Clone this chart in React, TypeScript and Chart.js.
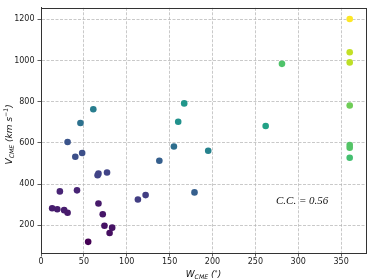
import React, { useEffect, useRef } from "react";
import { Chart, registerables } from "chart.js";

Chart.register(...registerables);

const widths = [13, 19, 22, 27, 31, 31, 40, 42, 46, 48, 55, 61, 66, 67, 67, 72, 74, 77, 80, 83, 113, 122, 138, 155, 160, 167, 179, 195, 262, 281, 360, 360, 360, 360, 360, 360, 360];
const speeds = [283, 278, 365, 274, 261, 605, 533, 370, 697, 551, 120, 764, 443, 451, 306, 254, 198, 457, 163, 189, 326, 347, 514, 583, 703, 792, 360, 562, 682, 984, 1202, 1040, 991, 782, 590, 577, 528];
const colorValues = [0.08, 0.08, 0.1, 0.08, 0.07, 0.26, 0.24, 0.1, 0.37, 0.24, 0.0, 0.42, 0.2, 0.2, 0.07, 0.06, 0.05, 0.2, 0.04, 0.05, 0.18, 0.18, 0.3, 0.36, 0.5, 0.52, 0.3, 0.44, 0.57, 0.72, 1.0, 0.91, 0.9, 0.78, 0.73, 0.73, 0.7];
const xTicks = [0, 50, 100, 150, 200, 250, 300, 350];
const yTicks = [200, 400, 600, 800, 1000, 1200];
const ccText = "C.C. = 0.56";

const viridis = ["#440154", "#482475", "#414487", "#355f8d", "#2a788e", "#21918c", "#22a884", "#44bf70", "#7ad151", "#bddf26", "#fde725"];

function hex(h: string) {
  return [parseInt(h.slice(1, 3), 16), parseInt(h.slice(3, 5), 16), parseInt(h.slice(5, 7), 16)];
}
function cmap(v: number) {
  const t = Math.max(0, Math.min(1, v)) * 10;
  const i = Math.min(9, Math.floor(t));
  const f = t - i;
  const a = hex(viridis[i]);
  const b = hex(viridis[i + 1]);
  const c = a.map((x, k) => Math.round(x + (b[k] - x) * f));
  return `rgb(${c[0]},${c[1]},${c[2]})`;
}

const annot = {
  id: "annot",
  afterDraw(chart: any) {
    const ctx = chart.ctx;
    const a = chart.chartArea;
    ctx.save();
    ctx.strokeStyle = "#333";
    ctx.lineWidth = 1;
    ctx.setLineDash([]);
    ctx.strokeRect(Math.round(a.left) + 0.5, Math.round(a.top) + 0.5, Math.round(a.right - a.left), Math.round(a.bottom - a.top));
    ctx.fillStyle = "#111";
    const fam = "'DejaVu Sans', sans-serif";
    const measure = (parts: [string, number, number][]) => {
      let w = 0;
      for (const [t, s] of parts) {
        ctx.font = `oblique ${s}px ${fam}`;
        w += ctx.measureText(t).width;
      }
      return w;
    };
    const xParts: [string, number, number][] = [["W", 9, 0], ["CME", 6.2, 2], [" (", 9, 0], ["°", 6.5, -2.5], [")", 9, 0]];
    const xw = measure(xParts);
    let x = (a.left + a.right) / 2 - xw / 2;
    const yb = 277;
    ctx.textBaseline = "alphabetic";
    ctx.textAlign = "left";
    for (const [t, s, dy] of xParts) {
      ctx.font = `oblique ${s}px ${fam}`;
      ctx.fillText(t, x, yb + dy);
      x += ctx.measureText(t).width;
    }
    const yParts: [string, number, number][] = [["V", 9, 0], ["CME", 6.2, 2], [" (km s", 9, 0], ["−1", 6.2, -4], [")", 9, 0]];
    const yw = measure(yParts);
    ctx.translate(12, (a.top + a.bottom) / 2 + 4);
    ctx.rotate(-Math.PI / 2);
    x = -yw / 2;
    for (const [t, s, dy] of yParts) {
      ctx.font = `oblique ${s}px ${fam}`;
      ctx.fillText(t, x, dy);
      x += ctx.measureText(t).width;
    }
    ctx.restore();
    ctx.save();
    ctx.fillStyle = "#111";
    ctx.font = "italic 11px 'Liberation Serif', serif";
    ctx.textAlign = "left";
    ctx.textBaseline = "middle";
    ctx.fillText(ccText, 276, 201);
    ctx.restore();
  },
};

const gridOpts = {
  color: "rgba(180,180,180,0.9)",
  tickBorderDash: [],
  tickColor: "#333",
  tickLength: 3.5,
  lineWidth: 0.8,
};

export default function App() {
  const ref = useRef<HTMLCanvasElement | null>(null);
  useEffect(() => {
    if (!ref.current) return;
    const pts = widths.map((w, i) => ({ x: w, y: speeds[i] }));
    const chart = new Chart(ref.current, {
      type: "scatter",
      data: {
        datasets: [
          {
            data: pts,
            backgroundColor: colorValues.map(cmap),
            borderWidth: 0,
            pointRadius: 3.3,
          },
        ],
      },
      options: {
        animation: false,
        responsive: false,
        devicePixelRatio: 1,
        layout: { padding: { left: 0, right: 8, top: 5, bottom: 0 } },
        plugins: { legend: { display: false }, tooltip: { enabled: false } },
        scales: {
          x: {
            type: "linear",
            min: 0,
            max: 379,
            afterBuildTicks: (s: any) => {
              s.ticks = xTicks.map((v) => ({ value: v }));
            },
            afterFit: (s: any) => {
              s.height = 27;
            },
            ticks: {
              font: { family: "'DejaVu Sans', sans-serif", size: 8 },
              color: "#222",
              padding: 1,
              maxRotation: 0,
              callback: (v: any) => String(v),
            },
            grid: gridOpts,
            border: { display: true, color: "#333", width: 1, dash: [3, 1.5] },
          },
          y: {
            type: "linear",
            min: 66,
            max: 1256,
            afterBuildTicks: (s: any) => {
              s.ticks = yTicks.map((v) => ({ value: v }));
            },
            afterFit: (s: any) => {
              s.width = 41;
            },
            ticks: {
              font: { family: "'DejaVu Sans', sans-serif", size: 8 },
              color: "#222",
              padding: 3,
              callback: (v: any) => String(v),
            },
            grid: gridOpts,
            border: { display: true, color: "#333", width: 1, dash: [3, 1.5] },
          },
        },
      },
      plugins: [annot],
    } as any);
    return () => chart.destroy();
  }, []);
  return (
    <div style={{ position: "fixed", left: 0, top: 0, width: 374, height: 280, background: "#fff" }}>
      <canvas ref={ref} width={374} height={280} style={{ width: 374, height: 280 }} />
    </div>
  );
}
